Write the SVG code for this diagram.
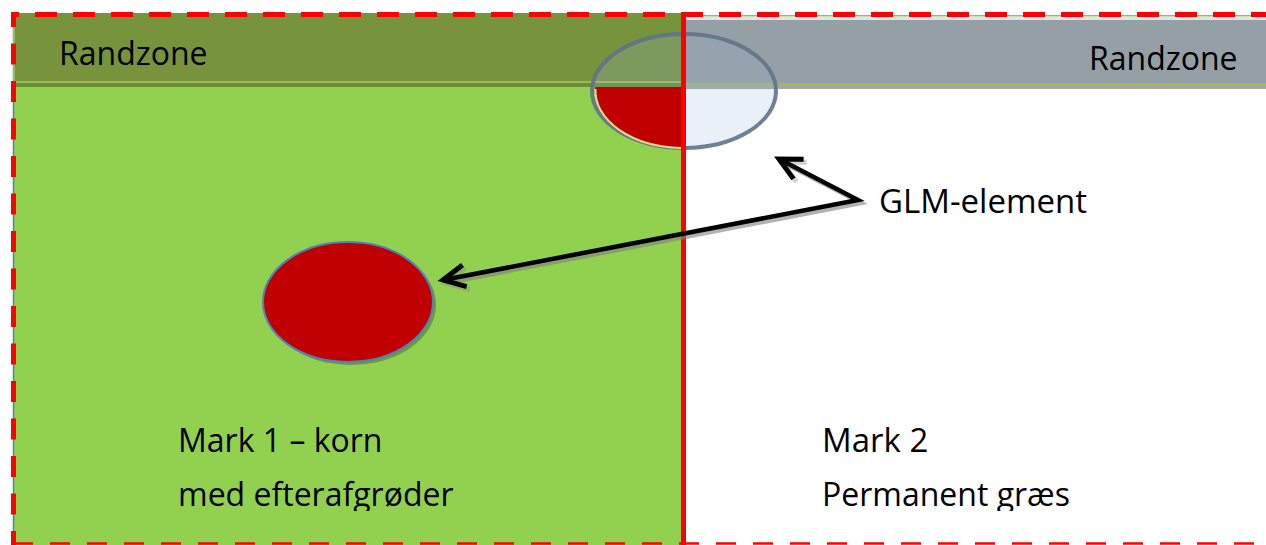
<svg xmlns="http://www.w3.org/2000/svg" width="1266" height="545" viewBox="0 0 1266 545">
  <style>
    .lbl { font-family: "Open Sans", "Noto Sans", "DejaVu Sans", sans-serif; font-size: 32px; fill: #000; }
    .big { font-size: 33px; }
    .redDash { fill: none; stroke: #FF0000; }
    .arrow { fill: none; stroke: #000; stroke-width: 4.5; stroke-linejoin: miter; }
    .arrowShadow { fill: none; stroke: #808080; stroke-width: 4.5; stroke-linejoin: miter; opacity: 0.6; }
  </style>
  <defs>
    <marker id="head" markerUnits="userSpaceOnUse" markerWidth="40" markerHeight="40" viewBox="-30 -20 40 40" refX="0" refY="0" orient="auto-start-reverse">
      <path d="M -22 -11 L 0 0 L -22 11" fill="none" stroke="#000" stroke-width="5" stroke-linejoin="miter"/>
    </marker>
    <marker id="headShadow" markerUnits="userSpaceOnUse" markerWidth="40" markerHeight="40" viewBox="-30 -20 40 40" refX="0" refY="0" orient="auto-start-reverse">
      <path d="M -22 -11 L 0 0 L -22 11" fill="none" stroke="#808080" stroke-width="5" stroke-linejoin="miter" opacity="0.6"/>
    </marker>
    <clipPath id="bottomClip">
      <rect x="0" y="0" width="1266" height="511"/>
    </clipPath>
  </defs>

  <rect x="0" y="0" width="1266" height="545" fill="#FFFFFF"/>

  <g id="mark1">
    <rect x="13" y="13" width="668" height="532" fill="#92D050"/>
    <line x1="13.5" y1="20" x2="13.5" y2="545" stroke="#4F81BD" stroke-width="1.5"/>
  </g>

  <g id="randzone-left">
    <rect x="13" y="13" width="668" height="68" fill="#77933C"/>
    <rect x="13" y="13" width="2" height="68" fill="#9BBB59"/>
    <rect x="13" y="81" width="668" height="2" fill="#9BBB59"/>
    <rect x="13" y="83" width="668" height="4" fill="#6B8E3A"/>
    <text class="lbl" x="59" y="65">Randzone</text>
  </g>

  <g id="randzone-right">
    <rect x="686" y="15" width="580" height="1.5" fill="#9BBB59"/>
    <rect x="686" y="17" width="580" height="3" fill="#DCE6F0"/>
    <rect x="686" y="20" width="580" height="63" fill="#959FA6"/>
    <rect x="686" y="83" width="580" height="2" fill="#9BBB59"/>
    <rect x="686" y="85" width="580" height="4" fill="#A5A5A5"/>
    <text class="lbl" x="1089" y="70">Randzone</text>
  </g>

  <g id="glm-top">
    <ellipse cx="684" cy="91" rx="92" ry="57" fill="rgb(150,180,215)" fill-opacity="0.2" stroke="#5F738A" stroke-opacity="0.9" stroke-width="4"/>
    <path d="M 681 87 L 595 87 A 89 57 0 0 0 681 148 Z" fill="#C00000"/>
    <path d="M 595.5 89 A 89 57 0 0 0 681 148" fill="none" stroke="#E3DE85" stroke-width="2"/>
  </g>

  <g id="glm-mark1">
    <ellipse cx="351" cy="305" rx="85" ry="60" fill="#4E7A2E" opacity="0.6"/>
    <ellipse cx="348" cy="302" rx="85" ry="60" fill="#C00000" stroke="#4F81BD" stroke-width="2"/>
  </g>

  <g id="borders">
    <line class="redDash" x1="11" y1="14.5" x2="1266" y2="14.5" stroke-width="5" stroke-dasharray="22 16" stroke-dashoffset="14"/>
    <line class="redDash" x1="13.5" y1="12" x2="13.5" y2="545" stroke-width="5" stroke-dasharray="21 16.5" stroke-dashoffset="6"/>
    <line class="redDash" x1="13" y1="543.5" x2="1266" y2="543.5" stroke-width="2.5" stroke-dasharray="20 17"/>
    <line x1="683.5" y1="12" x2="683.5" y2="545" stroke="#FF0000" stroke-width="5"/>
  </g>

  <g id="connectors">
    <path class="arrowShadow" d="M 782 162 L 861 203 L 446 283" marker-start="url(#headShadow)" marker-end="url(#headShadow)"/>
    <path class="arrow" d="M 779 159 L 858 200 L 443 280" marker-start="url(#head)" marker-end="url(#head)"/>
  </g>

  <g id="label-glm">
    <text class="lbl big" x="879" y="213">GLM-element</text>
  </g>

  <g id="label-mark1" clip-path="url(#bottomClip)">
    <text class="lbl" x="178" y="452" font-size="32.7">Mark 1 – korn</text>
    <text class="lbl" x="178" y="506">med efterafgrøder</text>
  </g>

  <g id="label-mark2" clip-path="url(#bottomClip)">
    <text class="lbl big" x="822" y="452">Mark 2</text>
    <text class="lbl" x="822" y="506">Permanent græs</text>
  </g>
</svg>
